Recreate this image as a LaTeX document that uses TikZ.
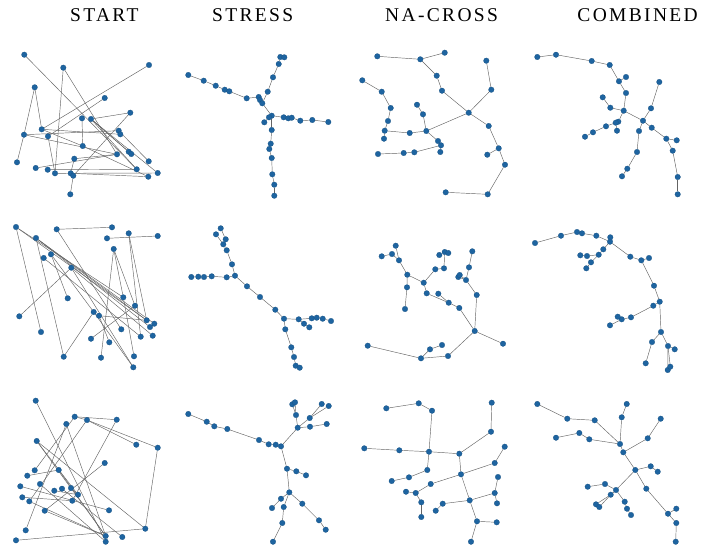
\documentclass[tikz,border=0pt]{standalone}
\usepackage{fontspec}
\setmainfont{Liberation Serif}
\usetikzlibrary{backgrounds}
\definecolor{dotblue}{RGB}{30,100,160}
\definecolor{edgegray}{RGB}{100,100,100}
\tikzset{
  dot/.style={circle,inner sep=0pt,minimum size=5.6pt,fill=dotblue,draw=dotblue!80!black,line width=0.2pt},
  edge/.style={draw=edgegray,line width=0.45pt},
  title/.style={anchor=base west,inner sep=0pt,font=\fontsize{19.5}{22}\selectfont\addfontfeature{LetterSpace=12}}
}
\begin{document}
\begin{tikzpicture}[x=1pt,y=-1pt]
\useasboundingbox (0,0) rectangle (701,550);
% titles
\node[title] (t1) at (70,21) {START};
\node[title] (t2) at (212,21) {STRESS};
\node[title] (t3) at (385,21) {NA-CROSS};
\node[title,anchor=base east] (t4) at (698,21) {COMBINED};

% ---------- panel 1: START row 1
\foreach \n/\x/\y in {A/24.3/54.7,B/63.3/67.7,C/149/65,D/34.7/87.3,E/104.7/98,F/130.3/112.7,G/82/118.3,H/91/119,I/24/134.7,J/41.7/129.3,K/48/136.3,L/118.7/130.7,M/120.3/134.3,N/82.7/146,O/117/154.3,P/128.7/151.7,Q/131.3/154,R/74.3/158.7,S/17/162.3,T/148.7/161.3,U/35.7/168,V/47.7/169.7,W/55/173.3,X/70.7/173.3,Y/73.3/175.7,Z/136.7/169.3,AA/148.3/176.7,AB/157.7/173,AC/70.3/194.3}
  \node[dot] (a\n) at (\x,\y) {};
% ---------- panel 2: STRESS row 1
\foreach \n/\x/\y in {1/188.3/75,2/203.7/80.7,3/215.7/85.7,4/224.7/89.7,5/229.3/91.3,6/246.7/98.3,7/258.7/97,8/260/100,9/262.3/103.3,10/267.7/91.7,11/273/77.3,12/278.7/64,13/280.3/57,14/284.3/57.3,15/271.7/115.7,16/269/117.3,17/264.3/122.3,18/283.7/117.3,19/288.3/118.3,20/291.7/117.7,21/300.3/120.7,22/312.3/120,23/328.3/122,24/271.7/130,25/270.7/143.7,26/269.3/149,27/271.7/158,28/272.3/174.3,29/274.3/184.7,30/274.3/195.7}
  \node[dot] (b\n) at (\x,\y) {};
% ---------- panel 3: NA-CROSS row 1
\foreach \n/\x/\y in {1/377.3/56.3,2/420.3/59.3,3/444.7/52.7,4/436.7/75.7,5/442/90.7,6/468.7/112.7,7/486.3/60.7,8/491.3/89.7,9/488.7/126,10/498.7/148.3,11/487.3/154.7,12/505/164.7,13/487.7/194.3,14/445.7/192.3,15/362.3/80.3,16/381.7/91.7,17/390.7/108,18/388/121,19/384.7/130.7,20/384/138.7,21/409.7/133,22/426.3/131,23/417/104.7,24/423/114.3,25/438/141,26/441/145.3,27/440.3/152,28/414.3/152.3,29/403.7/153,30/378/154}
  \node[dot] (c\n) at (\x,\y) {};
% ---------- panel 4: COMBINED row 1
\foreach \n/\x/\y in {1/537.3/57,2/556/54.7,3/591.7/61,4/609.7/65,5/619/81.3,6/626/77,7/626/93,8/623.7/110.7,9/602.7/97.3,10/610.3/107.7,11/618.3/121.7,12/615.7/122.7,13/617/130.7,14/606/126.3,15/593/132.3,16/585/136.7,17/643/120.7,18/651/108.3,19/659.3/82,20/639/131,21/637/152,22/627.3/168.7,23/622/176.3,24/651.7/127.7,25/666.3/138.7,26/676.7/140.3,27/672.7/150.7,28/677.7/177,29/677.7/194.3}
  \node[dot] (d\n) at (\x,\y) {};
% ---------- panel 5: START row 2
\foreach \n/\x/\y in {1/16/227,2/56.7/229.3,3/112/227.3,4/107/238.3,5/128.7/233.3,6/157.7/236,7/36/238,8/113.7/249,9/43.7/258,10/51/254.3,11/71.3/267.7,12/67.7/298.3,13/123.3/297.3,14/135/305.7,15/19.3/316.3,16/93.7/312,17/99/315.7,18/146.7/320.3,19/154.3/323.7,20/150/327,21/121.3/329.3,22/41/332,23/152.7/335.7,24/140.7/336.7,25/91/338.7,26/109.3/342.3,27/63.7/356.7,28/101/357.7,29/134/356.3,30/133.3/367.3}
  \node[dot] (e\n) at (\x,\y) {};
% ---------- panel 6: STRESS row 2
\foreach \n/\x/\y in {1/220.7/228.3,2/216/234.3,3/225.7/239.3,4/223.3/244.3,5/226.7/250.3,6/232/264.3,7/235/275.7,8/226.7/277.3,9/211.7/276.3,10/204/277,11/198.3/276.7,12/191.3/277,13/247/286.3,14/260/297,15/275.3/309.7,16/284/318.7,17/298.7/319.3,18/304/323.7,19/309.3/327.3,20/311.7/318.3,21/316.7/317.7,22/322.7/318.7,23/331/321,24/285.3/329.3,25/291.3/347.3,26/294/357,27/295.7/365.7,28/299.7/367.7}
  \node[dot] (f\n) at (\x,\y) {};
% ---------- panel 7: NA-CROSS row 2
\foreach \n/\x/\y in {1/395.7/245.7,2/392/254,3/381.7/256.3,4/399/260.3,5/407.3/274.7,6/407/287.3,7/405/309,8/423.7/282.7,9/435.3/269.3,10/444/268.3,11/444.7/252,12/448.3/253,13/439.3/255,14/426.7/293.3,15/438.3/293.7,16/448.7/302.7,17/459.3/308,18/472.3/251.3,19/469/267.3,20/458.3/277,21/459.7/275,22/466/280,23/476.7/295,24/474.7/331,25/503/343.7,26/448/356,27/421/358.3,28/430/349.3,29/442/345,30/367.7/345.7}
  \node[dot] (g\n) at (\x,\y) {};
% ---------- panel 8: COMBINED row 2
\foreach \n/\x/\y in {1/535/243,2/561/235.7,3/577/232,4/582/233.3,5/596.3/235.7,6/610.3/237.3,7/610/241.7,8/603.3/249.3,9/598.7/254.7,10/591/262.3,11/586.3/268.3,12/587/256,13/580.3/255.3,14/630.3/256.7,15/641.3/260.3,16/649/258,17/654/285.7,18/659.7/301.7,19/653.3/305.7,20/631/317.3,21/621.7/319.3,22/617.7/316.7,23/610/325.3,24/661/332,25/652/342,26/645.7/363.3,27/668/346,28/674.7/349.3,29/667.7/370,30/670.3/366.7}
  \node[dot] (h\n) at (\x,\y) {};
% ---------- panel 9: START row 3
\foreach \n/\x/\y in {1/35.7/400.7,2/74.7/416.7,3/66.3/424,4/87/420,5/116.7/419.7,6/136.3/444.7,7/157.7/447.7,8/36.7/441,9/104.7/463,10/27.3/475.7,11/34.7/470.3,12/58.7/470,13/20.3/486.3,14/40/484,15/54.3/490.7,16/62/488.7,17/71/488,18/78/494.7,19/22.3/497.3,20/29.3/501.3,21/72.3/500.7,22/44.7/510.7,23/109/510.3,24/145.3/528.7,25/25.7/530.3,26/16/540.3,27/105.7/536,28/105.7/541.7,29/122.3/537}
  \node[dot] (i\n) at (\x,\y) {};
% ---------- panel 10: STRESS row 3
\foreach \n/\x/\y in {1/188.3/414,2/206.7/421.7,3/214.3/426.3,4/227.3/429,5/259/440,6/268.7/444.3,7/275.7/444.7,8/281/446.3,9/297.7/427.7,10/296/415,11/292.3/404.3,12/295/402.3,13/309.7/418,14/321.7/404,15/328.7/406,16/310/426.7,17/326.7/424,18/287/468.7,19/296.3/471.3,20/306/475.3,21/289.3/492.3,22/281/498.7,23/272/508,24/283.7/507,25/282.3/523,26/273/541.7,27/302.3/503.7,28/319/520.3,29/325.7/529.7}
  \node[dot] (j\n) at (\x,\y) {};
% ---------- panel 11: NA-CROSS row 3
\foreach \n/\x/\y in {1/386.3/408.3,2/418.7/403.3,3/432/410.7,4/491.7/402.7,5/491/431.7,6/364.3/448.3,7/399.3/450.3,8/429/451.7,9/459.3/453.7,10/504.7/446.7,11/494.7/463,12/427.3/470,13/409/477.3,14/391.7/481,15/461/474.3,16/430.7/484,17/406/491.7,18/415.7/493,19/421.3/502.3,20/421.3/517,21/498/477,22/494.7/493,23/497/503.3,24/469.7/500.3,25/442.7/503.7,26/435.7/510.7,27/477/521.3,28/496.7/522.3,29/471/541.7}
  \node[dot] (k\n) at (\x,\y) {};
% ---------- panel 12: COMBINED row 3
\foreach \n/\x/\y in {1/537.3/404,2/567.3/418.7,3/594.7/420.3,4/626.7/404,5/621.7/417.3,6/660.7/418.7,7/647.7/438.3,8/556/437.7,9/579.3/433,10/589.3/439.3,11/620/444,12/623.3/452.3,13/635.3/470,14/650.7/466.3,15/657.7/471.7,16/646.3/488.7,17/587.7/486.7,18/605/484,19/616/490,20/610.7/494.7,21/596/504.3,22/599.3/507,23/624.7/501.7,24/627/508.7,25/631/515,26/668/513.7,27/676.3/508.7,28/676.3/523,29/675.7/541.7}
  \node[dot] (l\n) at (\x,\y) {};

\begin{pgfonlayer}{background}
% panel 1
\foreach \p/\q in {A/Z,B/W,B/O,C/J,E/K,D/I,D/J,I/S,I/L,I/O,J/N,K/W,G/N,H/P,H/Q,H/Z,H/AB,F/H,F/Y,L/M,N/AA,U/O,R/O,R/X,V/Z,W/AB,X/AA,Y/AC,L/T,J/M}
  \draw[edge] (a\p) -- (a\q);
% panel 2
\foreach \p/\q in {1/2,2/3,3/4,4/5,5/6,6/7,7/8,8/9,9/15,9/10,10/11,11/12,12/13,13/14,15/16,16/17,15/18,18/19,19/20,20/21,21/22,22/23,15/24,24/25,25/26,26/27,27/28,28/29,29/30}
  \draw[edge] (b\p) -- (b\q);
% panel 3
\foreach \p/\q in {1/2,2/3,2/4,4/5,5/6,6/8,8/7,6/9,9/10,10/11,10/12,12/13,13/14,6/22,22/24,24/23,22/21,21/19,19/20,19/18,18/17,17/16,16/15,22/25,25/26,26/27,26/28,28/29,29/30}
  \draw[edge] (c\p) -- (c\q);
% panel 4
\foreach \p/\q in {1/2,2/3,3/4,4/5,5/6,5/7,7/8,8/10,10/9,8/11,11/12,12/13,11/14,14/15,15/16,8/17,17/18,18/19,17/20,20/21,21/22,22/23,17/24,24/25,25/26,25/27,27/28,28/29}
  \draw[edge] (d\p) -- (d\q);
% panel 5
\foreach \p/\q in {1/22,1/18,1/13,2/3,2/21,4/6,7/27,7/18,7/20,7/19,10/12,10/16,11/15,11/30,11/23,8/13,8/28,5/24,5/18,14/25,16/27,16/30,17/18,17/26,9/24,13/29,8/14}
  \draw[edge] (e\p) -- (e\q);
% panel 6
\foreach \p/\q in {1/3,2/4,3/4,4/5,5/6,6/7,7/8,8/9,9/10,10/11,11/12,7/13,13/14,14/15,15/16,16/17,17/18,18/19,17/20,20/21,21/22,22/23,16/24,24/25,25/26,26/27,27/28}
  \draw[edge] (f\p) -- (f\q);
% panel 7
\foreach \p/\q in {1/4,3/2,2/4,4/5,5/6,6/7,5/8,8/9,9/10,10/11,11/12,11/13,8/14,14/16,15/16,16/17,17/24,24/23,23/22,22/20,22/21,22/19,19/18,24/25,24/26,26/27,27/28,28/29,27/30}
  \draw[edge] (g\p) -- (g\q);
% panel 8
\foreach \p/\q in {1/2,2/3,3/4,4/5,5/7,6/7,7/8,8/9,9/12,12/13,9/10,10/11,7/14,14/15,15/16,15/17,17/18,18/19,19/20,20/21,21/22,21/23,18/24,24/25,25/26,24/27,27/28,27/29,27/30}
  \draw[edge] (h\p) -- (h\q);
% panel 9
\foreach \p/\q in {1/28,2/4,2/5,2/11,4/7,4/6,4/20,3/25,3/27,5/21,7/24,8/24,8/27,8/18,9/22,12/27,13/23,14/28,15/18,20/27,22/27,26/24,16/29,17/18,10/12,19/21}
  \draw[edge] (i\p) -- (i\q);
% panel 10
\foreach \p/\q in {1/2,2/3,3/4,4/5,5/6,6/7,7/8,8/9,9/10,10/11,10/12,9/13,13/14,13/15,9/16,16/17,8/18,18/19,19/20,18/21,21/22,22/23,21/24,24/25,25/26,21/27,27/28,28/29}
  \draw[edge] (j\p) -- (j\q);
% panel 11
\foreach \p/\q in {1/2,2/3,3/8,6/7,7/8,8/9,8/12,12/13,13/14,9/5,5/4,9/15,15/11,11/10,15/16,16/18,18/17,18/19,19/20,15/24,24/22,22/21,22/23,24/25,25/26,24/27,27/28,27/29}
  \draw[edge] (k\p) -- (k\q);
% panel 12
\foreach \p/\q in {1/2,2/3,3/11,4/5,5/11,8/9,9/10,10/11,11/12,12/7,7/6,12/13,13/14,14/15,13/16,16/26,26/27,26/28,28/29,13/19,19/18,18/17,19/20,20/21,20/22,19/23,23/24,24/25}
  \draw[edge] (l\p) -- (l\q);
\end{pgfonlayer}
\end{tikzpicture}
\end{document}
